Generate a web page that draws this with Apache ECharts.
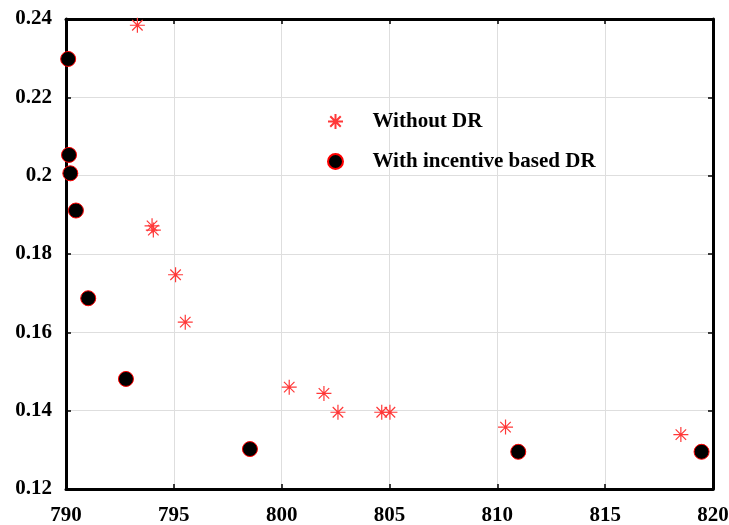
<!DOCTYPE html>
<html>
<head>
<meta charset="utf-8">
<script src="https://cdn.jsdelivr.net/npm/echarts@6/dist/echarts.min.js"></script>
<style>
html,body{margin:0;padding:0;background:#fff;}
#chart{width:729px;height:525px;}
</style>
</head>
<body>
<div id="chart"></div>
<script>
// ---- data ----
var seriesNames = ['Without DR', 'With incentive based DR'];
var withoutDR_x = [793.31, 793.99, 794.05, 795.08, 795.53, 800.35, 801.96, 802.61, 804.64, 805.02, 810.38, 818.51];
var withoutDR_y = [0.2384, 0.1872, 0.1861, 0.1747, 0.1626, 0.1460, 0.1444, 0.1396, 0.1396, 0.1396, 0.1358, 0.1339];
var withDR_x = [790.10, 790.14, 790.20, 790.46, 791.03, 792.78, 798.53, 810.97, 819.47];
var withDR_y = [0.2298, 0.2053, 0.2006, 0.1911, 0.1687, 0.1481, 0.1302, 0.1295, 0.1295];
var xTickLabels = ['790', '795', '800', '805', '810', '815', '820'];
var yTickLabels = ['0.12', '0.14', '0.16', '0.18', '0.2', '0.22', '0.24'];

function zip(a, b) { return a.map(function (v, i) { return [v, b[i]]; }); }

var font = '"Liberation Serif", "Times New Roman", serif';
var starPath = 'path://M0,50L100,50M50,0L50,100M15,15L85,85M85,15L15,85';

var chart = echarts.init(document.getElementById('chart'), null, {renderer: 'canvas'});

var option = {
  backgroundColor: '#ffffff',
  animation: false,
  grid: {left: 66, right: 16, top: 19, bottom: 36, containLabel: false, outerBoundsMode: 'none'},
  legend: {
    orient: 'vertical',
    left: 322,
    top: 106,
    itemWidth: 64,
    itemHeight: 15,
    itemGap: 19,
    selectedMode: false,
    data: seriesNames,
    textStyle: {fontFamily: font, fontWeight: 'bold', fontSize: 21, color: '#000'}
  },
  xAxis: [{
    type: 'value', min: 790, max: 820, interval: 5, position: 'bottom',
    axisLine: {show: true, onZero: false, lineStyle: {color: '#000', width: 3}},
    axisTick: {show: true, inside: true, length: 5, lineStyle: {color: '#000', width: 1.5}},
    axisLabel: {margin: 16, color: '#000', fontFamily: font, fontWeight: 'bold', fontSize: 21,
      formatter: function (v, i) { return xTickLabels[i]; }},
    splitLine: {show: true, lineStyle: {color: '#dedede', width: 1}}
  }, {
    type: 'value', min: 790, max: 820, interval: 5, position: 'top',
    axisLine: {show: true, onZero: false, lineStyle: {color: '#000', width: 3}},
    axisTick: {show: true, inside: true, length: 5, lineStyle: {color: '#000', width: 1.5}},
    axisLabel: {show: false},
    splitLine: {show: false}
  }],
  yAxis: [{
    type: 'value', min: 0.12, max: 0.24, interval: 0.02, position: 'left',
    axisLine: {show: true, onZero: false, lineStyle: {color: '#000', width: 3}},
    axisTick: {show: true, inside: true, length: 5, lineStyle: {color: '#000', width: 1.5}},
    axisLabel: {margin: 14, color: '#000', fontFamily: font, fontWeight: 'bold', fontSize: 21,
      formatter: function (v, i) { return yTickLabels[i]; }},
    splitLine: {show: true, lineStyle: {color: '#dedede', width: 1}}
  }, {
    type: 'value', min: 0.12, max: 0.24, interval: 0.02, position: 'right',
    axisLine: {show: true, onZero: false, lineStyle: {color: '#000', width: 3}},
    axisTick: {show: true, inside: true, length: 5, lineStyle: {color: '#000', width: 1.5}},
    axisLabel: {show: false},
    splitLine: {show: false}
  }],
  series: [{
    name: seriesNames[0],
    type: 'scatter',
    xAxisIndex: 0, yAxisIndex: 0,
    symbol: starPath,
    symbolSize: 15,
    itemStyle: {color: 'rgba(0,0,0,0)', borderColor: '#ff3838', borderWidth: 1.2, opacity: 1},
    data: zip(withoutDR_x, withoutDR_y),
    z: 3
  }, {
    name: seriesNames[1],
    type: 'scatter',
    xAxisIndex: 0, yAxisIndex: 0,
    symbol: 'circle',
    symbolSize: 15,
    itemStyle: {color: '#000000', borderColor: '#ff0000', borderWidth: 1, opacity: 1},
    data: zip(withDR_x, withDR_y),
    z: 4
  }]
};
chart.setOption(option);
</script>
</body>
</html>
